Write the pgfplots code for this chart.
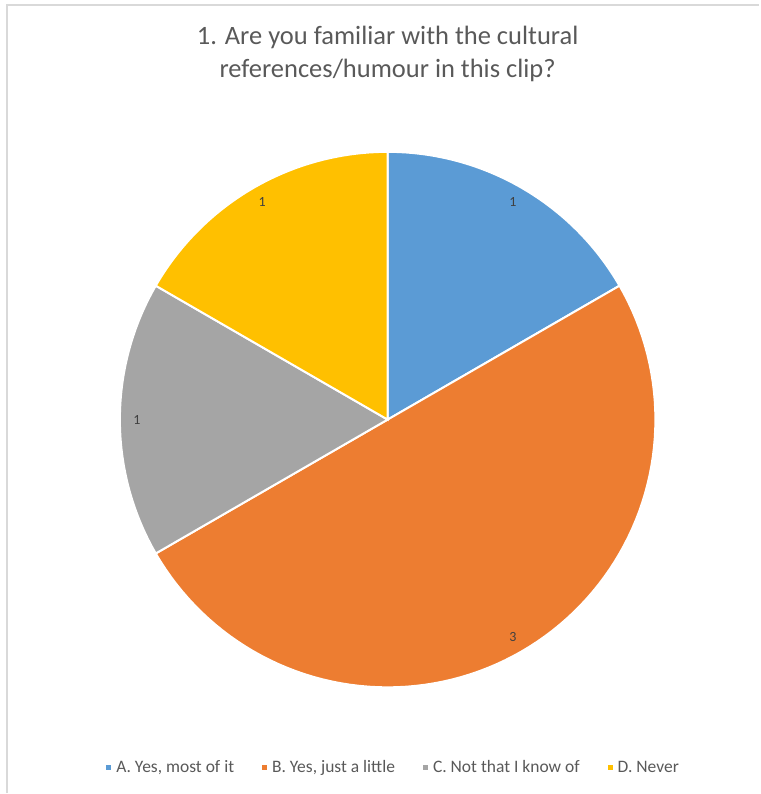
\documentclass[border=0pt]{standalone}
\usepackage{pgfplots}
\pgfplotsset{compat=1.18}
\usepackage{fontspec}
\setmainfont{Carlito}
\definecolor{colA}{HTML}{5B9BD5}
\definecolor{colB}{HTML}{ED7D31}
\definecolor{colC}{HTML}{A5A5A5}
\definecolor{colD}{HTML}{FFC000}
\definecolor{txt}{HTML}{595959}
\definecolor{lbl}{HTML}{404040}
\definecolor{frame}{HTML}{D9D9D9}
\begin{document}
\begin{tikzpicture}
\begin{axis}[
  width=760pt, height=794pt, scale only axis,
  xmin=0, xmax=760, ymin=0, ymax=794,
  hide axis, clip=false,
  legend columns=4,
  legend style={at={(axis cs:394,26)}, anchor=center, draw=none, fill=none,
    font=\fontsize{17.5}{19}\selectfont\color{txt},
    /tikz/every even column/.append style={column sep=26pt},
    inner sep=0pt},
  legend image code/.code={\path[#1,draw=none] (0pt,-2.5pt) rectangle (5pt,2.5pt);
    \path[draw=none,fill=none] (0pt,0pt) rectangle (8pt,0.1pt);},
]
\path[draw=none] (axis cs:0,0) rectangle (axis cs:760,794);
\draw[frame, line width=1.5pt] (axis cs:7,0) -- (axis cs:7,789) -- (axis cs:760,789);
\node[font=\fontsize{26.5}{33}\selectfont, text=txt, align=center] at (axis cs:388,740)
  {1. Are you familiar with the cultural\\references/humour in this clip?};
% values: A=1, B=3, C=1, D=1 (total 6), start at 90 deg, clockwise
\def\total{6}
\def\s{90}
\foreach \v/\c/\l in {1/colA/{A. Yes, most of it},3/colB/{B. Yes, just a little},1/colC/{C. Not that I know of},1/colD/{D. Never}} {
  \pgfmathsetmacro\e{\s-360*\v/\total}
  \gdef\pts{(388,374)}
  \foreach \i in {0,...,90} {
    \pgfmathsetmacro\a{\s+(\e-\s)*\i/90}
    \pgfmathsetmacro\px{388+268*cos(\a)}
    \pgfmathsetmacro\py{374+268*sin(\a)}
    \xdef\pts{\pts (\px,\py)}
  }
  \pgfmathsetmacro\m{(\s+\e)/2}
  \pgfmathsetmacro\lx{388+251*cos(\m)}
  \pgfmathsetmacro\ly{374+251*sin(\m)}
  \pgfmathtruncatemacro\vi{\v}
  \edef\cmd{\noexpand\addplot[fill=\c, draw=white, line width=2pt] coordinates {\pts} -- cycle;
    \noexpand\addlegendentry{\l}
    \noexpand\node[font=\noexpand\fontsize{14}{16}\noexpand\selectfont, text=lbl] at (axis cs:\lx,\ly) {\vi};}
  \cmd
  \xdef\s{\e}
}
\end{axis}
\end{tikzpicture}
\end{document}
